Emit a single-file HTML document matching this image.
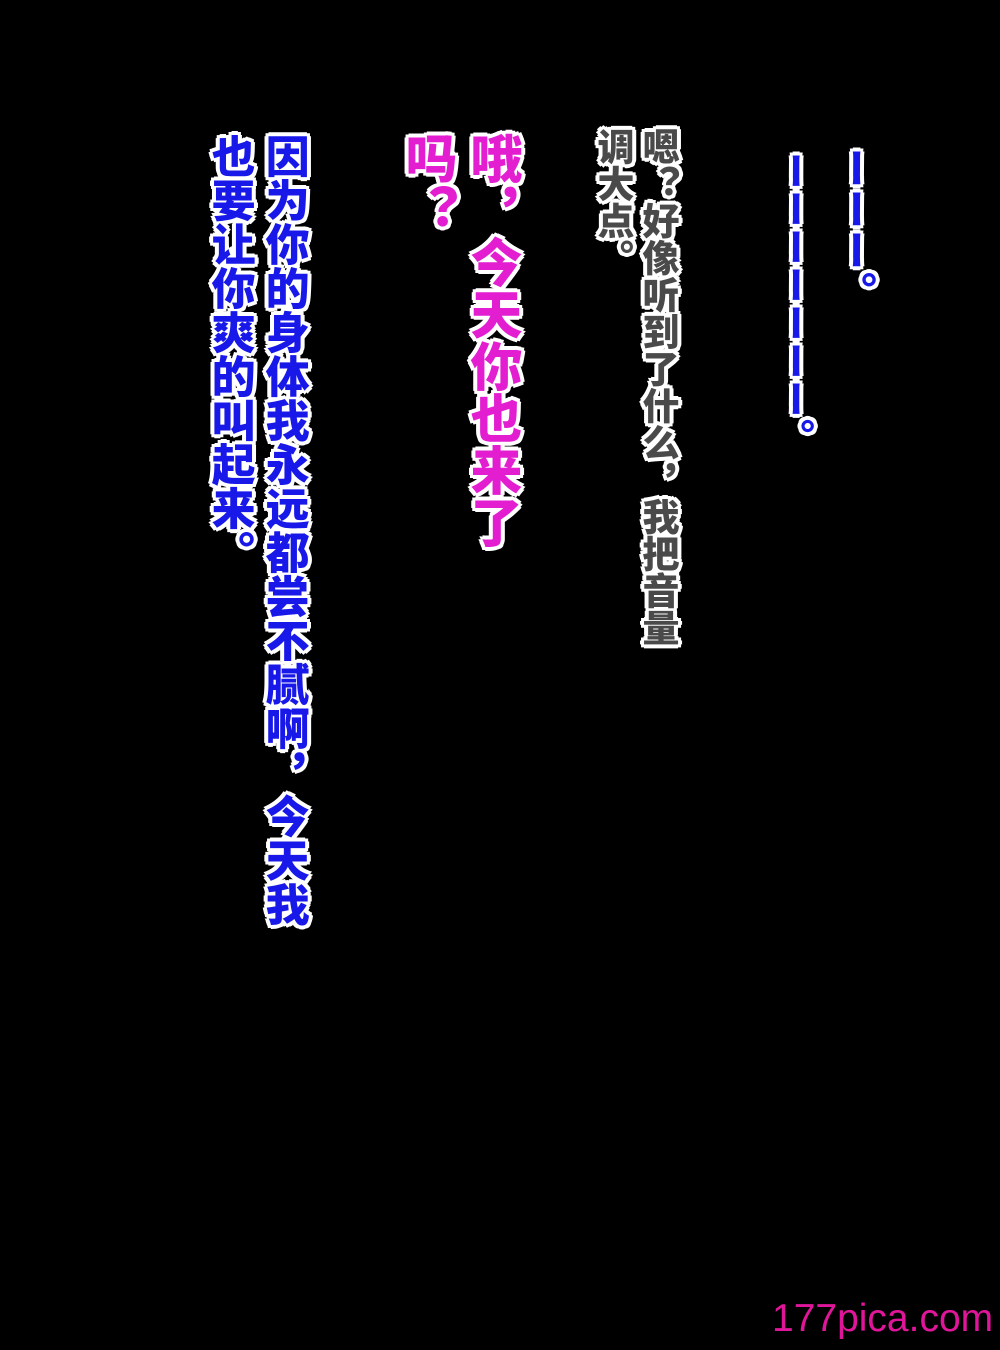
<!DOCTYPE html>
<html><head><meta charset="utf-8"><style>
html,body{margin:0;padding:0;background:#000;}
body{width:1000px;height:1350px;position:relative;overflow:hidden;}
.c{position:absolute;writing-mode:vertical-rl;font-family:"Liberation Sans","Noto Sans CJK SC",sans-serif;font-weight:900;white-space:nowrap;
text-shadow:3px 0 #fff,-3px 0 #fff,0 3px #fff,0 -3px #fff,2px 2px #fff,-2px 2px #fff,2px -2px #fff,-2px -2px #fff,4px 0 #fff,-4px 0 #fff,0 4px #fff,0 -4px #fff,3px 3px #fff,-3px 3px #fff,3px -3px #fff,-3px -3px #fff;}
.b{color:#1818e8;}
.g{color:#4a4a4a;}
.m{color:#e21ed0;}
</style></head><body>
<div class="c b" style="left:831px;top:148px;font-size:41px;line-height:44px;">ーーー。</div>
<div class="c b" style="left:771px;top:152px;font-size:38px;line-height:42px;">ーーーーーーー。</div>
<div class="c g" style="left:637px;top:128px;font-size:37px;line-height:40px;">嗯？好像听到了什么，我把音量</div>
<div class="c g" style="left:592px;top:128px;font-size:37px;line-height:40px;">调大点。</div>
<div class="c m" style="left:461px;top:132px;font-size:52px;line-height:59px;">哦，今天你也来了</div>
<div class="c m" style="left:396px;top:132px;font-size:52px;line-height:59px;">吗？</div>
<div class="c b" style="left:259px;top:134px;font-size:44px;line-height:46.6px;">因为你的身体我永远都尝不腻啊，今天我</div>
<div class="c b" style="left:205px;top:134px;font-size:44px;line-height:46.6px;">也要让你爽的叫起来。</div>
<div style="position:absolute;left:772px;top:1297px;font-family:'Liberation Sans',sans-serif;font-size:39px;color:#e0169a;">177pica.com</div>
</body></html>
